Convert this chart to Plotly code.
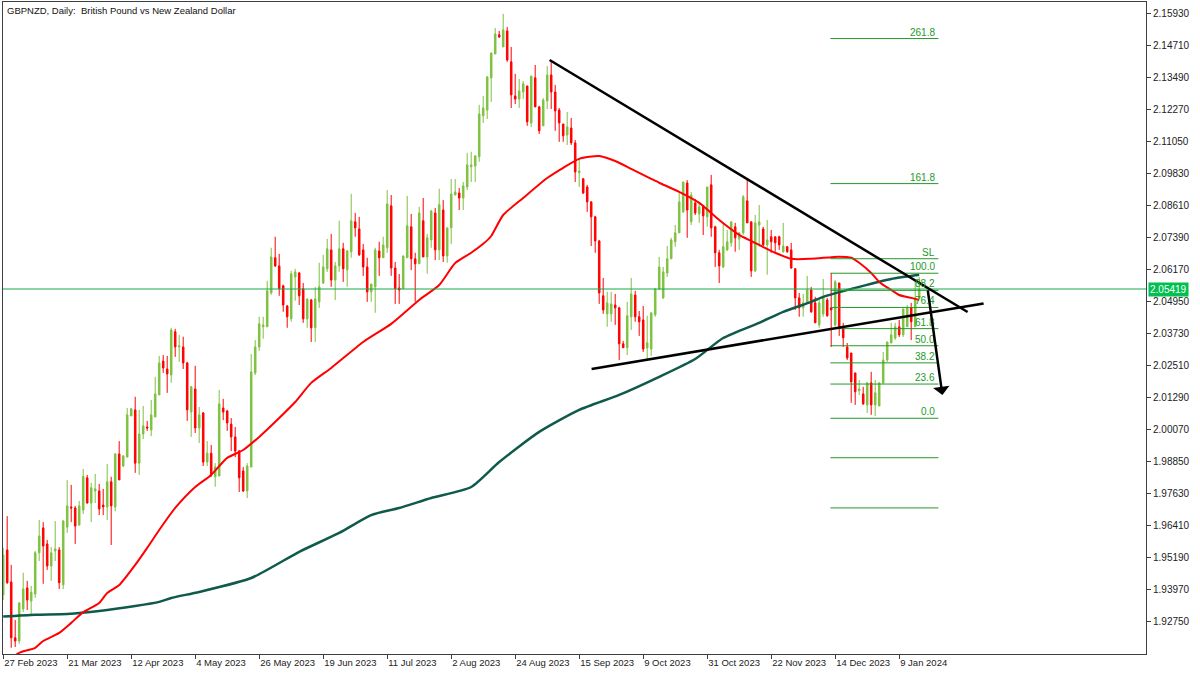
import plotly.graph_objects as go

# ---------------- data (GBPNZD daily candles) ----------------
opens = [
 1.9375, 1.9547, 1.9425, 1.9212, 1.9200, 1.9322, 1.9402, 1.9352, 1.9379, 1.9536,
 1.9631, 1.9570, 1.9486, 1.9543, 1.9547, 1.9414, 1.9634, 1.9711, 1.9707, 1.9642,
 1.9699, 1.9822, 1.9726, 1.9772, 1.9772, 1.9718, 1.9711, 1.9807, 1.9711, 1.9913,
 1.9867, 1.9901, 2.0058, 2.0081, 1.9878, 1.9989, 2.0016, 2.0004, 2.0054, 2.0138,
 2.0267, 2.0237, 2.0214, 2.0379, 2.0321, 2.0321, 2.0260, 2.0073, 2.0161, 2.0012,
 2.0069, 1.9882, 1.9916, 1.9826, 1.9829, 2.0088, 2.0077, 2.0027, 1.9978, 1.9924,
 1.9848, 1.9772, 1.9863, 2.0222, 2.0321, 2.0398, 2.0398, 2.0527, 2.0661, 2.0630,
 2.0554, 2.0477, 2.0428, 2.0588, 2.0603, 2.0543, 2.0428, 2.0500, 2.0394, 2.0493,
 2.0565, 2.0619, 2.0691, 2.0576, 2.0630, 2.0695, 2.0615, 2.0684, 2.0798, 2.0771,
 2.0691, 2.0626, 2.0531, 2.0550, 2.0687, 2.0661, 2.0699, 2.0859, 2.0622, 2.0546,
 2.0543, 2.0661, 2.0779, 2.0657, 2.0638, 2.0802, 2.0664, 2.0729, 2.0832, 2.0691,
 2.0843, 2.0668, 2.0775, 2.0900, 2.0908, 2.0889, 2.0931, 2.1008, 2.1011, 2.1046,
 2.1202, 2.1224, 2.1347, 2.1438, 2.1511, 2.1465, 2.1526, 2.1408, 2.1278, 2.1266,
 2.1293, 2.1316, 2.1175, 2.1347, 2.1236, 2.1164, 2.1259, 2.1358, 2.1293, 2.1224,
 2.1171, 2.1129, 2.1156, 2.1099, 2.0985, 2.0962, 2.0931, 2.0874, 2.0817, 2.0725,
 2.0516, 2.0447, 2.0447, 2.0481, 2.0470, 2.0333, 2.0318, 2.0436, 2.0519, 2.0436,
 2.0424, 2.0317, 2.0313, 2.0444, 2.0542, 2.0508, 2.0603, 2.0657, 2.0722, 2.0756,
 2.0836, 2.0946, 2.0798, 2.0870, 2.0828, 2.0855, 2.0817, 2.0939, 2.0779, 2.0680,
 2.0626, 2.0691, 2.0718, 2.0779, 2.0733, 2.0756, 2.0878, 2.0798, 2.0611, 2.0786,
 2.0771, 2.0710, 2.0741, 2.0741, 2.0741, 2.0684, 2.0703, 2.0691, 2.0619, 2.0508,
 2.0470, 2.0489, 2.0538, 2.0489, 2.0405, 2.0447, 2.0500, 2.0470, 2.0405, 2.0565,
 2.0394, 2.0321, 2.0298, 2.0222, 2.0154, 2.0142, 2.0100, 2.0184, 2.0100, 2.0096,
 2.0184, 2.0271, 2.0336, 2.0355, 2.0398, 2.0367, 2.0398, 2.0470, 2.0398, 2.0508,
]
highs = [
 1.9555, 1.9676, 1.9490, 1.9280, 1.9348, 1.9460, 1.9429, 1.9410, 1.9543, 1.9661,
 1.9653, 1.9585, 1.9558, 1.9657, 1.9558, 1.9661, 1.9814, 1.9795, 1.9715, 1.9734,
 1.9856, 1.9833, 1.9803, 1.9837, 1.9799, 1.9780, 1.9875, 1.9826, 1.9916, 1.9962,
 1.9909, 2.0088, 2.0088, 2.0131, 2.0081, 2.0096, 2.0039, 2.0119, 2.0207, 2.0287,
 2.0290, 2.0287, 2.0394, 2.0390, 2.0367, 2.0360, 2.0264, 2.0172, 2.0249, 2.0092,
 2.0073, 1.9962, 1.9947, 1.9878, 2.0157, 2.0123, 2.0081, 2.0050, 2.0016, 1.9928,
 1.9863, 1.9878, 2.0294, 2.0347, 2.0436, 2.0436, 2.0573, 2.0699, 2.0741, 2.0676,
 2.0558, 2.0481, 2.0611, 2.0619, 2.0607, 2.0565, 2.0504, 2.0504, 2.0550, 2.0642,
 2.0672, 2.0733, 2.0752, 2.0645, 2.0802, 2.0718, 2.0691, 2.0905, 2.0832, 2.0817,
 2.0714, 2.0661, 2.0561, 2.0699, 2.0722, 2.0741, 2.0919, 2.0900, 2.0645, 2.0599,
 2.0668, 2.0897, 2.0828, 2.0680, 2.0855, 2.0889, 2.0752, 2.0840, 2.0851, 2.0924,
 2.0881, 2.0775, 2.0961, 2.0961, 2.0927, 2.0950, 2.1061, 2.1065, 2.1053, 2.1244,
 2.1278, 2.1354, 2.1442, 2.1537, 2.1526, 2.1591, 2.1541, 2.1465, 2.1362, 2.1343,
 2.1335, 2.1316, 2.1354, 2.1396, 2.1240, 2.1270, 2.1392, 2.1415, 2.1320, 2.1232,
 2.1171, 2.1217, 2.1194, 2.1110, 2.1042, 2.0965, 2.0939, 2.0877, 2.0821, 2.0729,
 2.0584, 2.0531, 2.0531, 2.0523, 2.0474, 2.0344, 2.0493, 2.0584, 2.0535, 2.0458,
 2.0477, 2.0440, 2.0451, 2.0546, 2.0664, 2.0626, 2.0706, 2.0737, 2.0786, 2.0912,
 2.0950, 2.0957, 2.0912, 2.0885, 2.0874, 2.0862, 2.0931, 2.0977, 2.0783, 2.0691,
 2.0794, 2.0767, 2.0798, 2.0794, 2.0756, 2.0900, 2.0965, 2.0798, 2.0824, 2.0862,
 2.0779, 2.0805, 2.0767, 2.0741, 2.0745, 2.0794, 2.0706, 2.0718, 2.0622, 2.0527,
 2.0523, 2.0592, 2.0550, 2.0512, 2.0508, 2.0580, 2.0508, 2.0603, 2.0576, 2.0565,
 2.0413, 2.0336, 2.0298, 2.0222, 2.0195, 2.0169, 2.0184, 2.0226, 2.0195, 2.0184,
 2.0302, 2.0340, 2.0413, 2.0413, 2.0424, 2.0466, 2.0481, 2.0489, 2.0576, 2.0588,
]
lows = [
 1.9356, 1.9418, 1.9174, 1.9177, 1.9189, 1.9310, 1.9318, 1.9295, 1.9364, 1.9505,
 1.9418, 1.9471, 1.9429, 1.9505, 1.9398, 1.9398, 1.9612, 1.9653, 1.9570, 1.9640,
 1.9684, 1.9724, 1.9653, 1.9726, 1.9680, 1.9680, 1.9661, 1.9566, 1.9695, 1.9814,
 1.9863, 1.9901, 2.0058, 1.9841, 1.9833, 1.9970, 2.0001, 1.9981, 2.0054, 2.0138,
 2.0222, 2.0146, 2.0184, 2.0283, 2.0264, 2.0237, 2.0039, 1.9978, 1.9993, 1.9955,
 1.9867, 1.9867, 1.9826, 1.9788, 1.9829, 2.0042, 2.0001, 1.9924, 1.9901, 1.9768,
 1.9768, 1.9745, 1.9863, 2.0214, 2.0306, 2.0352, 2.0398, 2.0520, 2.0626, 2.0516,
 2.0455, 2.0394, 2.0417, 2.0497, 2.0481, 2.0413, 2.0394, 2.0340, 2.0340, 2.0470,
 2.0561, 2.0607, 2.0550, 2.0500, 2.0607, 2.0569, 2.0550, 2.0661, 2.0741, 2.0668,
 2.0592, 2.0493, 2.0493, 2.0451, 2.0592, 2.0661, 2.0680, 2.0592, 2.0485, 2.0485,
 2.0543, 2.0661, 2.0614, 2.0493, 2.0638, 2.0664, 2.0600, 2.0699, 2.0652, 2.0652,
 2.0645, 2.0642, 2.0714, 2.0900, 2.0843, 2.0843, 2.0919, 2.0950, 2.0950, 2.1027,
 2.1175, 2.1190, 2.1255, 2.1438, 2.1499, 2.1465, 2.1408, 2.1232, 2.1247, 2.1232,
 2.1266, 2.1164, 2.1160, 2.1236, 2.1133, 2.1164, 2.1228, 2.1228, 2.1145, 2.1103,
 2.1103, 2.1091, 2.1091, 2.0950, 2.0931, 2.0904, 2.0836, 2.0706, 2.0680, 2.0485,
 2.0447, 2.0398, 2.0417, 2.0405, 2.0271, 2.0317, 2.0290, 2.0386, 2.0417, 2.0363,
 2.0302, 2.0275, 2.0287, 2.0436, 2.0538, 2.0504, 2.0588, 2.0657, 2.0703, 2.0756,
 2.0832, 2.0737, 2.0786, 2.0824, 2.0794, 2.0748, 2.0779, 2.0741, 2.0626, 2.0565,
 2.0622, 2.0687, 2.0703, 2.0684, 2.0691, 2.0748, 2.0794, 2.0588, 2.0607, 2.0703,
 2.0706, 2.0596, 2.0680, 2.0684, 2.0691, 2.0680, 2.0680, 2.0619, 2.0462, 2.0436,
 2.0436, 2.0485, 2.0451, 2.0413, 2.0394, 2.0436, 2.0436, 2.0321, 2.0398, 2.0363,
 2.0321, 2.0271, 2.0108, 2.0100, 2.0138, 2.0100, 2.0069, 2.0062, 2.0058, 2.0096,
 2.0180, 2.0264, 2.0336, 2.0348, 2.0359, 2.0359, 2.0398, 2.0347, 2.0398, 2.0504,
]
closes = [
 1.9528, 1.9422, 1.9212, 1.9200, 1.9345, 1.9398, 1.9356, 1.9386, 1.9536, 1.9600,
 1.9562, 1.9486, 1.9536, 1.9551, 1.9422, 1.9657, 1.9715, 1.9707, 1.9638, 1.9715,
 1.9827, 1.9726, 1.9784, 1.9780, 1.9703, 1.9711, 1.9807, 1.9715, 1.9913, 1.9814,
 1.9905, 2.0062, 2.0085, 1.9878, 1.9989, 2.0020, 2.0012, 2.0062, 2.0142, 2.0260,
 2.0241, 2.0218, 2.0386, 2.0321, 2.0325, 2.0260, 2.0081, 2.0169, 2.0012, 2.0062,
 1.9882, 1.9916, 1.9833, 1.9863, 2.0104, 2.0073, 2.0031, 1.9978, 1.9924, 1.9822,
 1.9772, 1.9867, 2.0226, 2.0321, 2.0409, 2.0405, 2.0535, 2.0664, 2.0630, 2.0543,
 2.0481, 2.0436, 2.0600, 2.0607, 2.0516, 2.0428, 2.0504, 2.0394, 2.0504, 2.0550,
 2.0626, 2.0695, 2.0576, 2.0630, 2.0695, 2.0619, 2.0687, 2.0802, 2.0775, 2.0672,
 2.0626, 2.0531, 2.0561, 2.0691, 2.0661, 2.0710, 2.0866, 2.0622, 2.0543, 2.0538,
 2.0668, 2.0783, 2.0657, 2.0638, 2.0832, 2.0664, 2.0737, 2.0840, 2.0691, 2.0863,
 2.0668, 2.0775, 2.0904, 2.0912, 2.0889, 2.0935, 2.1015, 2.1015, 2.1049, 2.1209,
 2.1232, 2.1350, 2.1442, 2.1514, 2.1503, 2.1530, 2.1415, 2.1282, 2.1266, 2.1297,
 2.1324, 2.1179, 2.1354, 2.1236, 2.1145, 2.1262, 2.1358, 2.1293, 2.1221, 2.1175,
 2.1126, 2.1160, 2.1099, 2.0988, 2.0992, 2.0908, 2.0874, 2.0817, 2.0725, 2.0527,
 2.0462, 2.0489, 2.0485, 2.0470, 2.0333, 2.0318, 2.0440, 2.0523, 2.0436, 2.0417,
 2.0313, 2.0337, 2.0451, 2.0542, 2.0626, 2.0607, 2.0657, 2.0729, 2.0756, 2.0874,
 2.0950, 2.0843, 2.0900, 2.0832, 2.0855, 2.0821, 2.0931, 2.0775, 2.0680, 2.0630,
 2.0703, 2.0722, 2.0798, 2.0737, 2.0756, 2.0893, 2.0794, 2.0611, 2.0794, 2.0798,
 2.0710, 2.0729, 2.0722, 2.0718, 2.0710, 2.0706, 2.0684, 2.0622, 2.0508, 2.0470,
 2.0489, 2.0538, 2.0455, 2.0413, 2.0489, 2.0512, 2.0440, 2.0462, 2.0569, 2.0398,
 2.0356, 2.0279, 2.0188, 2.0150, 2.0161, 2.0104, 2.0184, 2.0100, 2.0146, 2.0184,
 2.0271, 2.0340, 2.0367, 2.0398, 2.0367, 2.0466, 2.0470, 2.0417, 2.0508, 2.0542,
]

# moving averages (bar index, price)
ma50_bars = [1, 4, 8, 10, 14, 17, 20, 24, 26, 29, 33, 36, 39, 43, 48, 52, 56, 60, 64, 69,
             73, 77, 82, 90, 97, 104, 109, 113, 117, 120, 122, 125, 130, 136, 140, 144, 149, 153, 157, 159,
             162, 164, 169, 174, 179, 184, 189, 193, 197, 202, 209, 212, 214, 217, 219, 222, 224, 227, 229]
ma50_vals = [1.9120, 1.9155, 1.9174, 1.9200, 1.9231, 1.9269, 1.9310, 1.9345, 1.9383, 1.9413,
             1.9490, 1.9555, 1.9623, 1.9707, 1.9787, 1.9833, 1.9898, 1.9928, 1.9978, 2.0050,
             2.0111, 2.0184, 2.0241, 2.0340, 2.0409, 2.0500, 2.0557, 2.0641, 2.0680, 2.0714,
             2.0744, 2.0824, 2.0889, 2.0965, 2.1004, 2.1038, 2.1049, 2.1030, 2.1000, 2.0985,
             2.0962, 2.0947, 2.0912, 2.0870, 2.0805, 2.0748, 2.0710, 2.0680, 2.0657, 2.0657,
             2.0665, 2.0661, 2.0642, 2.0603, 2.0569, 2.0538, 2.0519, 2.0508, 2.0500]

ma200_bars = [0, 8, 16, 24, 33, 39, 42, 49, 62, 74, 84, 92, 99, 107, 117, 124, 134, 144, 154, 164,
              173, 180, 189, 195, 202, 205, 214, 222, 229]
ma200_vals = [1.9293, 1.9300, 1.9303, 1.9314, 1.9333, 1.9349, 1.9364, 1.9387, 1.9440, 1.9540,
              1.9612, 1.9680, 1.9707, 1.9745, 1.9787, 1.9882, 1.9997, 2.0081, 2.0138, 2.0207,
              2.0275, 2.0355, 2.0413, 2.0455, 2.0493, 2.0512, 2.0550, 2.0580, 2.0596]

current_price = 2.05419

# axis ticks
x_tick_bars = [0, 16, 32, 48, 64, 80, 96, 112, 128, 144, 160, 176, 192, 208, 224]
x_tick_labels = ["27 Feb 2023", "21 Mar 2023", "12 Apr 2023", "4 May 2023", "26 May 2023",
                 "19 Jun 2023", "11 Jul 2023", "2 Aug 2023", "24 Aug 2023", "15 Sep 2023",
                 "9 Oct 2023", "31 Oct 2023", "22 Nov 2023", "14 Dec 2023", "9 Jan 2024"]
y_tick_labels = ["2.15930", "2.14710", "2.13490", "2.12270", "2.11050", "2.09830", "2.08610",
                 "2.07390", "2.06170", "2.04950", "2.03730", "2.02510", "2.01290", "2.00070",
                 "1.98850", "1.97630", "1.96410", "1.95190", "1.93970", "1.92750"]

# drawings: Fibonacci retracement, triangle lines, arrow
fib_high = 2.0602
fib_low = 2.0049
fib_start_bar = 206.8
fib_end_bar = 233.8
fib_levels = [261.8, 161.8, 110.0, 100.0, 88.2, 76.4, 61.8, 50.0, 38.2, 23.6, 0.0, -27.2, -61.8]
fib_labels = ["261.8", "161.8", "SL", "100.0", "88.2", "76.4", "61.8", "50.0", "38.2", "23.6", "0.0", "", ""]

upper_line_bars = [136.6, 241.1]
upper_line_prices = [2.1415, 2.0454]
lower_line_bars = [147.1, 245.1]
lower_line_prices = [2.0237, 2.0487]
arrow_bars = [231.1, 234.8]
arrow_prices = [2.0542, 2.0138]

# ---------------- styles ----------------
BULL = "#7fc142"
BEAR = "#ff0000"
FIB = "#24992a"
AXIS = "#3c3f44"
FONT = "Liberation Sans, Arial, sans-serif"

bars = list(range(len(opens)))

fig = go.Figure()
fig.add_trace(go.Candlestick(
    x=bars, open=opens, high=highs, low=lows, close=closes,
    increasing=dict(line=dict(color=BULL, width=1), fillcolor=BULL),
    decreasing=dict(line=dict(color=BEAR, width=1), fillcolor=BEAR),
    whiskerwidth=0, hoverinfo="skip", showlegend=False))
fig.add_trace(go.Scatter(x=ma200_bars, y=ma200_vals, mode="lines",
                         line=dict(color="#0f5a4b", width=2.5, shape="spline", smoothing=0.6),
                         hoverinfo="skip", showlegend=False))
fig.add_trace(go.Scatter(x=ma50_bars, y=ma50_vals, mode="lines",
                         line=dict(color="#ff0000", width=2, shape="spline", smoothing=0.6),
                         hoverinfo="skip", showlegend=False))

shapes = []
# current price line
shapes.append(dict(type="line", xref="paper", x0=0, x1=1, yref="y", y0=current_price, y1=current_price,
                   line=dict(color="#1aa84a", width=1)))
annotations = []
rng = fib_high - fib_low
for lvl, lab in zip(fib_levels, fib_labels):
    p = fib_low + rng * lvl / 100.0
    shapes.append(dict(type="line", xref="x", yref="y", x0=fib_start_bar, x1=fib_end_bar, y0=p, y1=p,
                       line=dict(color=FIB, width=1)))
    if lab:
        annotations.append(dict(x=fib_end_bar, y=p, xref="x", yref="y", text=lab, showarrow=False,
                                xanchor="right", yanchor="bottom", xshift=-1, yshift=-1,
                                font=dict(family=FONT, size=10, color=FIB)))
for bx, py in ((upper_line_bars, upper_line_prices), (lower_line_bars, lower_line_prices)):
    shapes.append(dict(type="line", xref="x", yref="y", x0=bx[0], x1=bx[1], y0=py[0], y1=py[1],
                       line=dict(color="#000000", width=2.5)))

annotations.append(dict(x=arrow_bars[1], y=arrow_prices[1], ax=arrow_bars[0], ay=arrow_prices[0],
                        xref="x", yref="y", axref="x", ayref="y", text="", showarrow=True,
                        arrowhead=1, arrowsize=1.1, arrowwidth=2.5, arrowcolor="#000000", standoff=0))
# title
annotations.append(dict(x=0, y=1, xref="paper", yref="paper", xanchor="left", yanchor="top",
                        xshift=2, yshift=-1, showarrow=False,
                        text="GBPNZD, Daily:\u00a0 British Pound vs New Zealand Dollar",
                        font=dict(family=FONT, size=9.5, color="#111111")))
# current price tag
annotations.append(dict(x=1, y=current_price, xref="paper", yref="y", xanchor="left", yanchor="middle",
                        xshift=2, showarrow=False, text=f"{current_price:.5f}",
                        bgcolor="#00c04f", borderpad=1,
                        font=dict(family=FONT, size=10, color="#ffffff")))

fig.update_layout(
    width=1200, height=675,
    margin=dict(l=3, r=54, t=2, b=21),
    paper_bgcolor="#ffffff", plot_bgcolor="#ffffff",
    boxgap=0.45,
    showlegend=False,
    shapes=shapes, annotations=annotations,
    xaxis=dict(range=[-0.05, 285.7], tickvals=x_tick_bars, ticktext=x_tick_labels,
               ticks="outside", ticklen=4, tickcolor=AXIS, ticklabelposition="outside right",
               showgrid=False, zeroline=False, showline=True, linecolor=AXIS, linewidth=1, mirror=True,
               rangeslider=dict(visible=False),
               tickfont=dict(family=FONT, size=9.5, color="#222222")),
    yaxis=dict(range=[1.91503, 2.16361], side="right",
               tickvals=[float(t) for t in y_tick_labels], ticktext=y_tick_labels,
               ticks="outside", ticklen=4, tickcolor=AXIS,
               showgrid=False, zeroline=False, showline=True, linecolor=AXIS, linewidth=1, mirror=True,
               tickfont=dict(family=FONT, size=10, color="#222222")),
)

fig.write_html("out.html", config={"displayModeBar": False},
               post_script="document.body.style.margin='0';document.body.style.overflow='hidden';")
